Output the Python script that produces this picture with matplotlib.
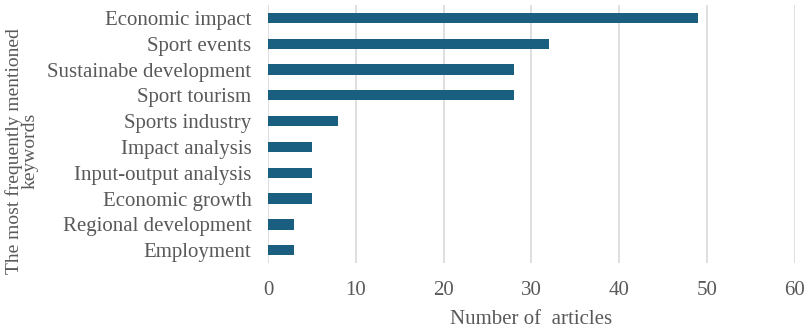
import matplotlib
matplotlib.use("Agg")
import matplotlib.pyplot as plt

keywords = [
    "Economic impact",
    "Sport events",
    "Sustainabe development",
    "Sport tourism",
    "Sports industry",
    "Impact analysis",
    "Input-output analysis",
    "Economic growth",
    "Regional development",
    "Employment",
]
articles = [49, 32, 28, 28, 8, 5, 5, 5, 3, 3]
x_ticks = [0, 10, 20, 30, 40, 50, 60]

text_color = "#595959"
bar_color = "#1a5e80"

plt.rcParams["font.family"] = ["Liberation Serif", "DejaVu Serif"]

fig, ax = plt.subplots(figsize=(8.1, 3.29), dpi=100)
fig.subplots_adjust(left=0.331, right=0.981, top=0.985, bottom=0.2)

pos = list(range(len(keywords)))
ax.barh(pos, articles, height=0.4, color=bar_color, zorder=3)

ax.set_ylim(len(keywords) - 0.5, -0.5)
ax.set_yticks(pos)
ax.set_yticklabels(keywords)
ax.set_xlim(0, 60)
ax.set_xticks(x_ticks)

ax.grid(axis="x", color="#d9d9d9", linewidth=1.2, zorder=0)
for s in ax.spines.values():
    s.set_visible(False)
ax.tick_params(axis="both", length=0, labelsize=15, colors=text_color)
ax.tick_params(axis="x", pad=13)
ax.tick_params(axis="y", pad=12)

ax.set_xlabel("Number of  articles", fontsize=15, color=text_color, labelpad=7)

# y label placed by hand so the long first line stays inside the figure
fig.text(0.027, 0.54, "The most frequently mentioned\nkeywords", fontsize=14,
         color=text_color, rotation=90, ha="center", va="center",
         linespacing=0.95, multialignment="center")

fig.savefig("out.png", dpi=100)
